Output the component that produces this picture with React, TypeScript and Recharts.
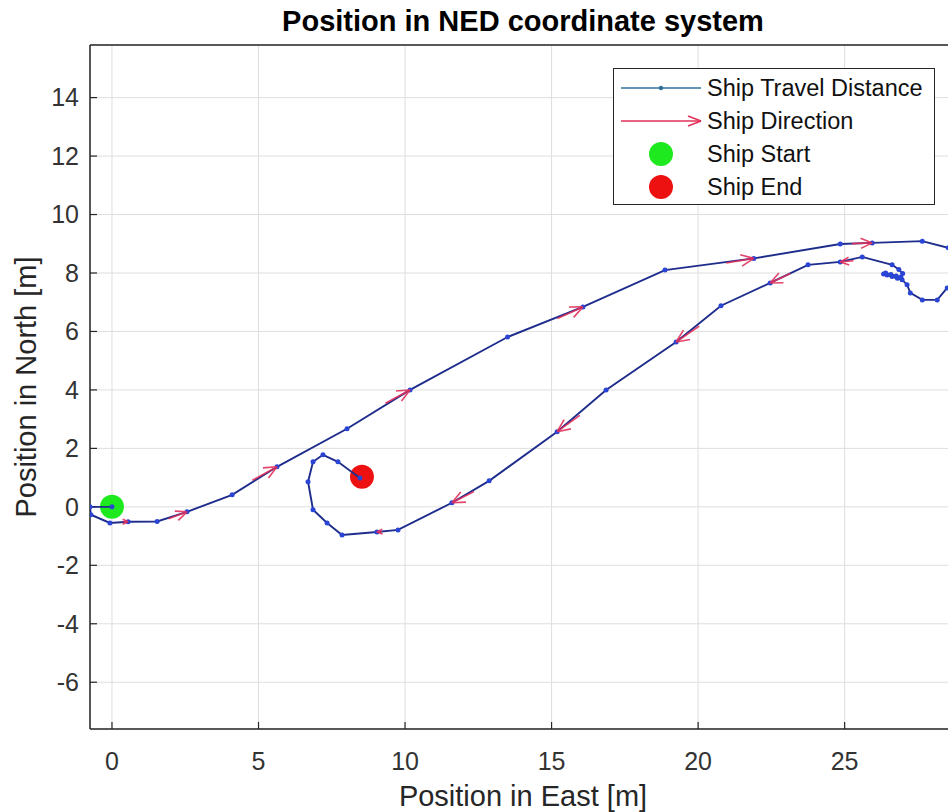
import { ScatterChart, Scatter, XAxis, YAxis, CartesianGrid } from 'recharts'

// ship track, in metres (East, North), in travel order
const pathEast = [
  0, -0.75, -0.72, -0.07, 0.55, 1.54, 2.56, 4.1, 5.63, 8.02, 10.17, 13.5, 16.07, 18.87, 21.9, 24.85,
  25.94, 27.65, 28.53, 29.3, 29.35, 28.5, 28.16, 27.65, 27.24, 27.13,
  26.96, 26.8, 26.62, 26.45, 26.33, 26.4, 26.58, 26.76, 26.92, 26.98, 26.85,
  26.62, 25.6, 24.85, 23.75, 22.46, 20.78, 19.25, 16.86, 15.19, 12.87, 11.6, 9.76, 9.04, 7.85,
  7.34, 6.86, 6.69, 6.86, 7.2, 7.71, 8.46,
]
const pathNorth = [
  0, 0.0, -0.27, -0.55, -0.51, -0.5, -0.17, 0.41, 1.37, 2.67, 4.0, 5.81, 6.84, 8.1, 8.5, 8.99,
  9.03, 9.09, 8.86, 8.3, 7.7, 7.49, 7.08, 7.08, 7.32, 7.6,
  7.77, 7.82, 7.88, 7.93, 7.97, 8.0, 7.95, 7.9, 7.86, 7.98, 8.12,
  8.28, 8.55, 8.38, 8.28, 7.66, 6.88, 5.64, 4.0, 2.57, 0.89, 0.14, -0.79, -0.86, -0.96,
  -0.55, -0.1, 0.86, 1.54, 1.78, 1.54, 0.99,
]

// direction arrows (quiver): position and direction
const arrowEast = [0.55, 2.56, 5.63, 10.17, 16.07, 21.9, 25.94, 24.85, 22.46, 19.25, 15.19, 11.6, 9.04]
const arrowNorth = [-0.51, -0.17, 1.37, 4.0, 6.84, 8.5, 9.03, 8.38, 7.66, 5.64, 2.57, 0.14, -0.86]
const arrowU = [0.4, 1.54, 2.39, 3.33, 2.8, 2.95, 1.7, -1.1, -1.68, -2.39, -2.32, -1.84, -0.4]
const arrowV = [0, 0.58, 1.3, 1.81, 1.26, 0.49, 0.06, -0.1, -0.78, -1.64, -1.68, -0.93, -0.03]

const startPoint = [{ x: 0, y: 0 }]
const endPoint = [{ x: 8.53, y: 1.03 }]

const xTicks = [0, 5, 10, 15, 20, 25]
const yTicks = [-6, -4, -2, 0, 2, 4, 6, 8, 10, 12, 14]

const FONT = '"Liberation Sans", Arial, Helvetica, sans-serif'
const AXIS = '#262626'
const ARROW = '#e2305a'

const pathData = pathEast.map((x, i) => ({ x, y: pathNorth[i] }))
const arrowData = arrowEast.map((x, i) => ({ x, y: arrowNorth[i], u: arrowU[i], v: arrowV[i] }))

const Dot = (props: any) => <circle cx={props.cx} cy={props.cy} r={2.5} fill="#2a44d4" />

const Arrow = (props: any) => {
  const { cx, cy, payload } = props
  if (cx == null || cy == null) return null
  const ang = Math.atan2(-payload.v, payload.u)
  const mag = Math.hypot(payload.u, payload.v)
  const shaft = Math.min(28, mag * 12)
  const barb = Math.min(14, 4 + mag * 5)
  const bx = cx - Math.cos(ang) * shaft
  const by = cy - Math.sin(ang) * shaft
  const a1 = ang + Math.PI - 0.42
  const a2 = ang + Math.PI + 0.42
  return (
    <g stroke={ARROW} strokeWidth={1.6} fill="none" opacity={0.9}>
      <line x1={bx} y1={by} x2={cx} y2={cy} />
      <line x1={cx} y1={cy} x2={cx + Math.cos(a1) * barb} y2={cy + Math.sin(a1) * barb} />
      <line x1={cx} y1={cy} x2={cx + Math.cos(a2) * barb} y2={cy + Math.sin(a2) * barb} />
    </g>
  )
}

const Ball = (color: string) => (props: any) => <circle cx={props.cx} cy={props.cy} r={12} fill={color} />

function LegendBox() {
  const rows = [
    { label: 'Ship Travel Distance', kind: 'line' },
    { label: 'Ship Direction', kind: 'arrow' },
    { label: 'Ship Start', kind: 'start' },
    { label: 'Ship End', kind: 'end' },
  ]
  return (
    <div style={{ position: 'absolute', left: 613, top: 68, width: 320, height: 135, border: `1.5px solid ${AXIS}`, background: '#fff', fontFamily: FONT }}>
      {rows.map((r, i) => (
        <div key={r.label} style={{ position: 'absolute', left: 0, top: 3 + i * 33, height: 33, width: 320, display: 'flex', alignItems: 'center' }}>
          <svg width={92} height={33} style={{ flexShrink: 0 }}>
            {r.kind === 'line' && (
              <g>
                <line x1={7} y1={16} x2={87} y2={16} stroke="#30709c" strokeWidth={1.6} />
                <circle cx={47} cy={16} r={2.2} fill="#30709c" />
              </g>
            )}
            {r.kind === 'arrow' && (
              <g stroke={ARROW} strokeWidth={1.6}>
                <line x1={7} y1={16} x2={87} y2={16} />
                <line x1={87} y1={16} x2={74} y2={11} />
                <line x1={87} y1={16} x2={74} y2={21} />
              </g>
            )}
            {r.kind === 'start' && <circle cx={47} cy={16} r={12} fill="#1ee81e" />}
            {r.kind === 'end' && <circle cx={47} cy={16} r={12} fill="#ee1111" />}
          </svg>
          <span style={{ fontSize: 23.5, color: '#111', marginLeft: 1, whiteSpace: 'nowrap' }}>{r.label}</span>
        </div>
      ))}
    </div>
  )
}

export default function App() {
  return (
    <div style={{ position: 'absolute', left: 0, top: 0, width: 948, height: 812, overflow: 'hidden', background: '#fff', fontFamily: FONT }}>
      <div style={{ position: 'absolute', left: 90, top: 7, width: 866, textAlign: 'center', fontSize: 29, lineHeight: '29px', fontWeight: 'bold', color: '#000' }}>
        Position in NED coordinate system
      </div>
      <ScatterChart width={960} height={812} margin={{ top: 44, right: 4, bottom: 0, left: 0 }}>
        <CartesianGrid stroke="#dedede" strokeWidth={1} />
        <XAxis
          type="number"
          dataKey="x"
          domain={[-0.75, 28.8]}
          allowDataOverflow
          ticks={xTicks}
          height={83}
          tickSize={-7}
          tickMargin={30}
          axisLine={{ stroke: AXIS, strokeWidth: 1.5 }}
          tickLine={{ stroke: AXIS, strokeWidth: 1.2 }}
          tick={{ fontSize: 25, fill: '#333', fontFamily: FONT }}
          label={{ value: 'Position in East [m]', position: 'insideBottom', offset: 6, style: { fontSize: 29, fill: AXIS, fontFamily: FONT } }}
        />
        <XAxis
          xAxisId="top"
          orientation="top"
          type="number"
          dataKey="x"
          domain={[-0.75, 28.8]}
          allowDataOverflow
          ticks={xTicks}
          height={1}
          tickSize={-7}
          tick={false}
          axisLine={{ stroke: AXIS, strokeWidth: 1.5 }}
          tickLine={{ stroke: AXIS, strokeWidth: 1.2 }}
        />
        <YAxis
          type="number"
          dataKey="y"
          domain={[-7.6, 15.8]}
          allowDataOverflow
          ticks={yTicks}
          width={90}
          tickSize={-7}
          tickMargin={18}
          axisLine={{ stroke: AXIS, strokeWidth: 1.5 }}
          tickLine={{ stroke: AXIS, strokeWidth: 1.2 }}
          tick={{ fontSize: 25, fill: '#333', fontFamily: FONT }}
          label={{ value: 'Position in North [m]', angle: -90, position: 'insideLeft', offset: 26, style: { fontSize: 29, fill: AXIS, fontFamily: FONT, textAnchor: 'middle' } }}
        />
        <Scatter name="Ship Start" data={startPoint} shape={Ball('#1ee81e')} isAnimationActive={false} />
        <Scatter name="Ship End" data={endPoint} shape={Ball('#ee1111')} isAnimationActive={false} />
        <Scatter
          name="Ship Travel Distance"
          data={pathData}
          line={{ stroke: '#1e2d8c', strokeWidth: 1.9 }}
          shape={Dot}
          isAnimationActive={false}
        />
        <Scatter name="Ship Direction" data={arrowData} shape={Arrow} isAnimationActive={false} />
      </ScatterChart>
      <LegendBox />
    </div>
  )
}
